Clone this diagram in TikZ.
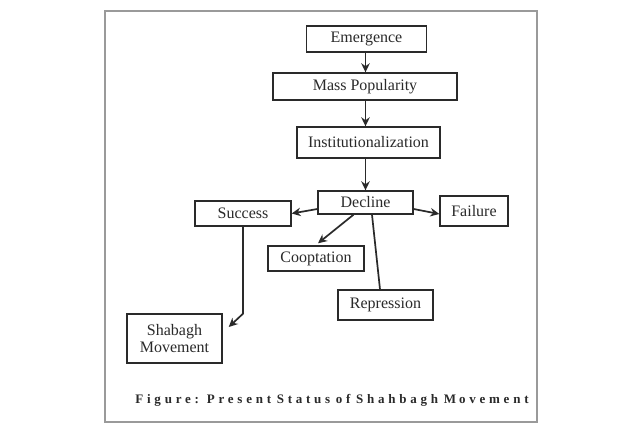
\documentclass[tikz,border=0pt]{standalone}
\usepackage{fontspec}
\setmainfont{Liberation Serif}
\newfontfamily\capfont[LetterSpace=29,WordSpace=0.8]{Liberation Serif}
\usetikzlibrary{arrows.meta}
\definecolor{ink}{HTML}{2A2A2A}
\definecolor{framegray}{HTML}{9A9A9A}
\tikzset{
  box/.style={draw=ink, line width=1.4pt, rectangle, inner sep=0pt, font=\fontsize{16}{17.5}\selectfont, text=ink, align=center},
  arr/.style={draw=ink, line width=1.7pt, -{Stealth[length=9pt,width=8.5pt]}},
  plain/.style={draw=ink, line width=1.7pt}
}
\begin{document}
\begin{tikzpicture}[x=1pt,y=-1pt]
\useasboundingbox (0,0) rectangle (640,429);
\fill[white] (0,0) rectangle (640,429);
\draw[framegray, line width=1.4pt] (105,11) rectangle (537,422);

\node[box, minimum width=120pt, minimum height=26pt] (em) at (366.5,39) {Emergence};
\node[box, minimum width=184pt, minimum height=27pt] (mp) at (365,86.5) {Mass Popularity};
\node[box, minimum width=143pt, minimum height=31pt] (inst) at (368.5,142.5) {Institutionalization};
\node[box, minimum width=95pt, minimum height=23pt] (dec) at (365.5,202.5) {Decline};
\node[box, minimum width=96pt, minimum height=25pt] (suc) at (243,213.5) {Success};
\node[box, minimum width=68pt, minimum height=30pt] (fail) at (474,211) {Failure};
\node[box, minimum width=96pt, minimum height=25pt] (coop) at (316,258.5) {Cooptation};
\node[box, minimum width=95pt, minimum height=30pt] (rep) at (385.5,305) {Repression};
\node[box, minimum width=95pt, minimum height=49pt] (sh) at (174.5,338.5) {Shabagh\\Movement};

\node[font={\capfont\bfseries\fontsize{13}{15}\selectfont}, text=ink, inner sep=0pt] (cap) at (332,400) {Figure: Present Status of Shahbagh M\hspace{3pt}ovement};

\draw[arr] (em.south -| dec.north) -- (mp.north -| dec.north);
\draw[arr] (mp.south -| dec.north) -- (inst.north -| dec.north);
\draw[arr] (inst.south -| dec.north) -- (dec.north);
\draw[arr] ([yshift=-6.5pt]dec.west) -- (suc.east);
\draw[arr] ([yshift=-6.5pt]dec.east) -- ([yshift=-3pt]fail.west);
\draw[arr] ([xshift=-12pt]dec.south) -- ([xshift=2pt,yshift=2pt]coop.north);
\draw[plain] ([xshift=6.5pt]dec.south) -- ([xshift=-5.5pt]rep.north);
\coordinate (bend) at ([yshift=-87pt]suc.south);
\draw[arr] (suc.south) -- (bend) -- ([xshift=6pt,yshift=11.5pt]sh.east);
\end{tikzpicture}
\end{document}
